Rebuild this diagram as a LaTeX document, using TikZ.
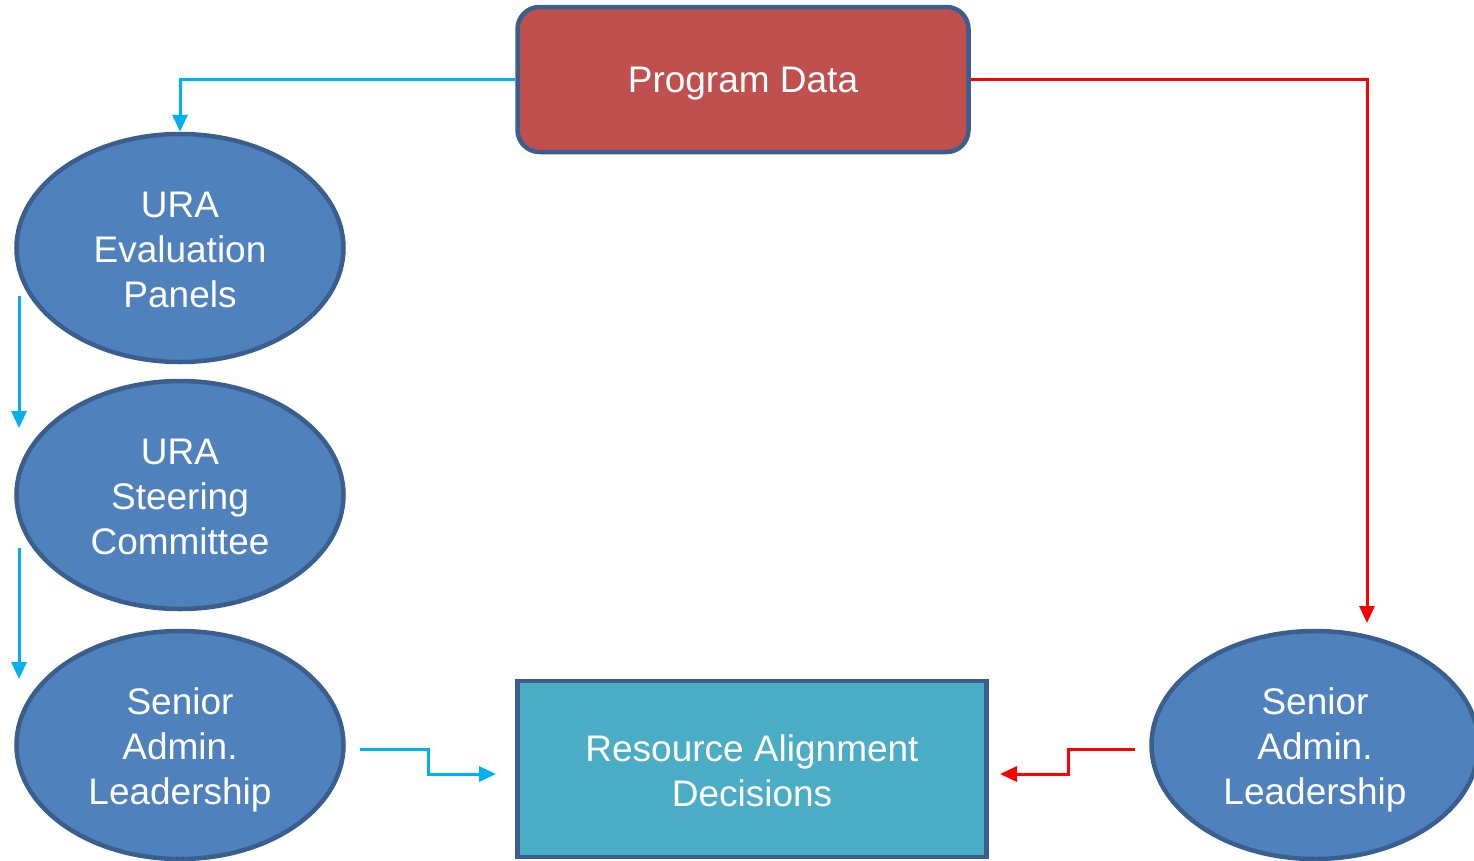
\documentclass[tikz,border=0pt]{standalone}
\usepackage{fontspec}
\setmainfont{Liberation Sans}
\usetikzlibrary{arrows.meta,shapes.geometric}
\definecolor{bord}{HTML}{3A5F8E}
\definecolor{ellfill}{HTML}{4F81BD}
\definecolor{pdfill}{HTML}{C0504D}
\definecolor{rafill}{HTML}{4BACC6}
\definecolor{cyanline}{HTML}{00B0F0}
\definecolor{redline}{HTML}{FF0000}
\newcommand{\lowtxt}[2]{\raisebox{-#1}[\height][\depth]{\begin{tabular}{@{}c@{}}#2\end{tabular}}}
\tikzset{
  ell/.style={ellipse, draw=bord, line width=4.5pt, fill=ellfill, text=white,
    minimum width=327pt, minimum height=228pt, inner sep=0pt, align=center,
    font=\fontsize{37}{45}\selectfont},
  boxnode/.style={draw=bord, line width=4.5pt, text=white, inner sep=0pt, align=center,
    font=\fontsize{37}{45}\selectfont},
  conn/.style={line width=3pt, -{Triangle[length=17pt,width=15pt]}},
  cy/.style={conn, draw=cyanline},
  rd/.style={conn, draw=redline}
}
\begin{document}
\begin{tikzpicture}[x=1pt,y=-1pt]
\useasboundingbox (0,0) rectangle (1474,860);
\node[boxnode, fill=pdfill, rounded corners=22pt, minimum width=451pt, minimum height=145pt] (pd) at (743,79.5) {\lowtxt{4pt}{Program Data}};
\node[boxnode, fill=rafill, minimum width=469pt, minimum height=176pt] (ra) at (752,769) {\lowtxt{6pt}{Resource Alignment\\Decisions}};
\node[ell] (e1) at (180,248) {\lowtxt{5.5pt}{URA\\Evaluation\\Panels}};
\node[ell] (e2) at (180,495) {\lowtxt{5.5pt}{URA\\Steering\\Committee}};
\node[ell] (e3) at (180,745) {\lowtxt{5pt}{Senior\\Admin.\\Leadership}};
\node[ell] (e4) at (1315,745) {\lowtxt{5pt}{Senior\\Admin.\\Leadership}};
% connectors
\coordinate (redend) at (1367,623);
\draw[cy] (pd.west) -| (e1.north);
\draw[rd] (pd.east) -| (redend);
\coordinate (a1s) at (19,296);
\coordinate (a1e) at (19,428);
\coordinate (a2s) at (19,548);
\coordinate (a2e) at (19,679);
\draw[cy] (a1s) -- (a1e);
\draw[cy] (a2s) -- (a2e);
\coordinate (cs) at (360,749);
\coordinate (ce) at (496,774);
\draw[cy] (cs) -- (428,749) -- (428,774) -- (ce);
\coordinate (rs) at (1135,749);
\coordinate (re) at (1000,774);
\draw[rd] (rs) -- (1068,749) -- (1068,774) -- (re);
\end{tikzpicture}
\end{document}
